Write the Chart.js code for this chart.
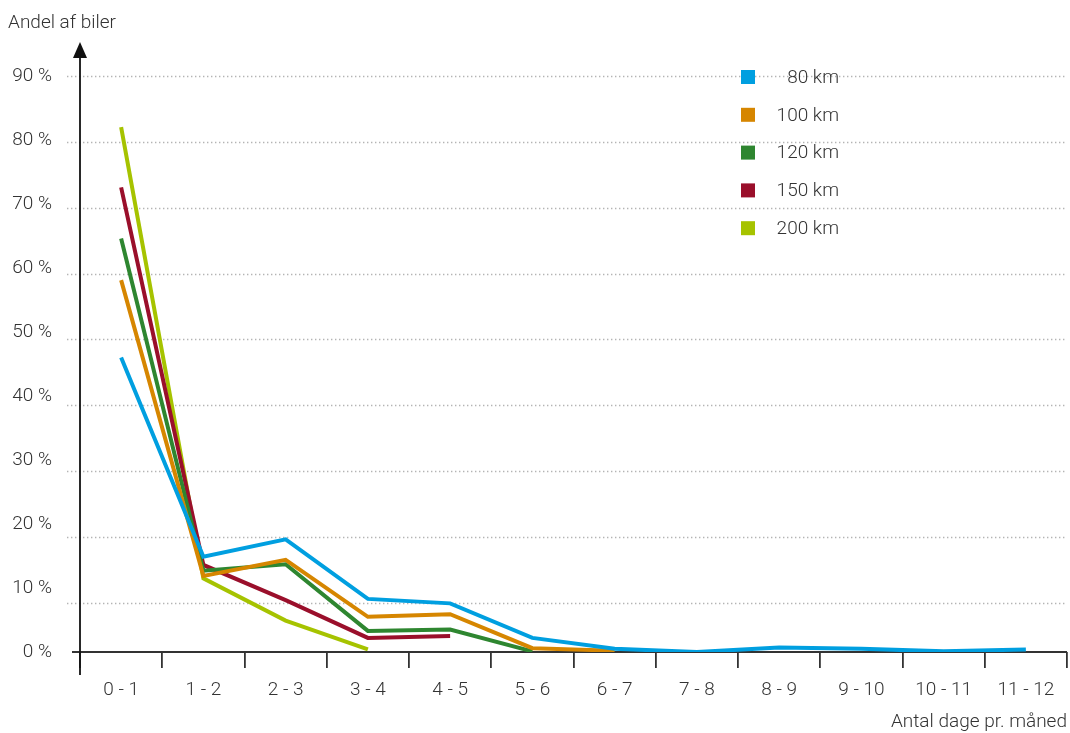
<!DOCTYPE html>
<html>
<head>
<meta charset="utf-8">
<script src="https://cdn.jsdelivr.net/npm/chart.js@4"></script>
<style>
  html, body { margin: 0; padding: 0; background: #ffffff; }
  #wrap { position: relative; width: 1070px; height: 733px; }
  canvas { display: block; }
</style>
</head>
<body>
<div id="wrap"><canvas id="c" width="1070" height="733"></canvas></div>
<script>
// Days per month on which a car drives more than the given distance
const categories = ['0 - 1', '1 - 2', '2 - 3', '3 - 4', '4 - 5', '5 - 6',
                    '6 - 7', '7 - 8', '8 - 9', '9 - 10', '10 - 11', '11 - 12'];

// Share of cars (%) per distance threshold
const km80  = [46.0, 14.9, 17.6, 8.3, 7.6, 2.2, 0.5, 0.0, 0.7, 0.5, 0.1, 0.4];
const km100 = [58.1, 11.9, 14.4, 5.5, 5.9, 0.6, 0.2];
const km120 = [64.6, 12.7, 13.7, 3.3, 3.5, 0.1];
const km150 = [72.6, 13.6, 8.1, 2.2, 2.5];
const km200 = [82.0, 11.5, 4.9, 0.4];

const seriesLabels = ['80 km', '100 km', '120 km', '150 km', '200 km'];
const seriesColors = ['#009fe0', '#d68600', '#2e8630', '#9a0f2b', '#a6c300'];

// Y tick labels and the dotted guide lines
const yTicks = [0, 10, 20, 30, 40, 50, 60, 70, 80, 90];
const guideValues = [10, 20, 30, 40, 50, 60, 70, 80, 90];

const yAxisTitle = 'Andel af biler';
const xAxisTitle = 'Antal dage pr. måned';

const FONT = "'Roboto', 'DejaVu Sans', sans-serif";
const WEIGHT = 300;
const SIZE = 19;
const TEXT = '#333333';
const AXIS = '#333333';

// Guide lines use their own scale so their spacing follows the printed layout
const GUIDE_MIN = 2.56;

const decorations = {
  id: 'decorations',
  beforeDatasetsDraw(chart) {
    const { ctx, chartArea: a } = chart;
    const g = chart.scales.guide;
    ctx.save();
    // dotted guide lines
    ctx.strokeStyle = '#b4b4b4';
    ctx.lineWidth = 1.4;
    ctx.setLineDash([1.4, 2.6]);
    guideValues.forEach(v => {
      const y = Math.round(g.getPixelForValue(v)) + 0.5;
      ctx.beginPath();
      ctx.moveTo(a.left - 13, y);
      ctx.lineTo(a.right, y);
      ctx.stroke();
    });
    ctx.setLineDash([]);

    // x axis line
    const y0 = chart.scales.y.getPixelForValue(0);
    ctx.strokeStyle = AXIS;
    ctx.lineWidth = 1.8;
    ctx.beginPath();
    ctx.moveTo(a.left - 8, y0);
    ctx.lineTo(a.right, y0);
    ctx.stroke();

    // y axis line with arrow head
    ctx.strokeStyle = '#111';
    ctx.lineWidth = 1.8;
    ctx.beginPath();
    ctx.moveTo(a.left, y0 + 23);
    ctx.lineTo(a.left, a.top - 20);
    ctx.stroke();
    ctx.fillStyle = '#111';
    ctx.beginPath();
    ctx.moveTo(a.left, a.top - 34);
    ctx.lineTo(a.left - 7, a.top - 18);
    ctx.lineTo(a.left + 7, a.top - 18);
    ctx.closePath();
    ctx.fill();
    ctx.restore();
  },
  afterDraw(chart) {
    const { ctx, chartArea: a } = chart;
    ctx.save();
    ctx.fillStyle = TEXT;
    ctx.font = WEIGHT + ' ' + SIZE + 'px ' + FONT;
    ctx.textBaseline = 'middle';
    // axis titles
    ctx.textAlign = 'left';
    ctx.fillText(yAxisTitle, 8, 23);
    ctx.textAlign = 'right';
    ctx.fillText(xAxisTitle, a.right, 722);

    // legend
    chart.data.datasets.forEach((ds, i) => {
      const y = a.top + 1 + i * 37.8;
      ctx.fillStyle = ds.borderColor;
      ctx.fillRect(741, y - 7, 14, 14);
      ctx.fillStyle = TEXT;
      ctx.textAlign = 'right';
      ctx.fillText(ds.label, 839, y + 1);
    });
    ctx.restore();
  }
};

const dataSets = [km80, km100, km120, km150, km200].map((vals, i) => ({
  label: seriesLabels[i],
  data: vals,
  borderColor: seriesColors[i],
  backgroundColor: seriesColors[i],
  borderWidth: 4,
  pointRadius: 0,
  pointHoverRadius: 0,
  tension: 0,
  fill: false,
  borderJoinStyle: 'miter',
  borderCapStyle: 'butt'
}));

new Chart(document.getElementById('c'), {
  type: 'line',
  data: { labels: categories, datasets: dataSets },
  options: {
    responsive: false,
    animation: false,
    events: [],
    layout: { padding: { top: 76, right: 3, left: 0, bottom: 0 } },
    plugins: {
      legend: { display: false },
      tooltip: { enabled: false }
    },
    scales: {
      x: {
        type: 'category',
        offset: true,
        border: { display: false },
        grid: {
          display: true,
          drawOnChartArea: false,
          drawTicks: true,
          tickLength: 16,
          offset: true,
          color: AXIS,
          lineWidth: 1.8
        },
        ticks: {
          color: TEXT,
          font: { family: FONT, size: SIZE, weight: WEIGHT },
          padding: 11,
          maxRotation: 0,
          autoSkip: false
        },
        afterFit(s) { s.height = 81; }
      },
      y: {
        type: 'linear',
        min: 0,
        max: 90,
        border: { display: false },
        grid: { display: false, drawTicks: false },
        afterBuildTicks(s) { s.ticks = yTicks.map(v => ({ value: v })); },
        ticks: {
          color: TEXT,
          font: { family: FONT, size: SIZE, weight: WEIGHT },
          padding: 28,
          callback: v => v + ' %'
        },
        afterFit(s) { s.width = 80; }
      },
      guide: {
        type: 'linear',
        axis: 'y',
        position: 'left',
        display: false,
        min: GUIDE_MIN,
        max: 90
      }
    }
  },
  plugins: [decorations]
});
</script>
</body>
</html>
